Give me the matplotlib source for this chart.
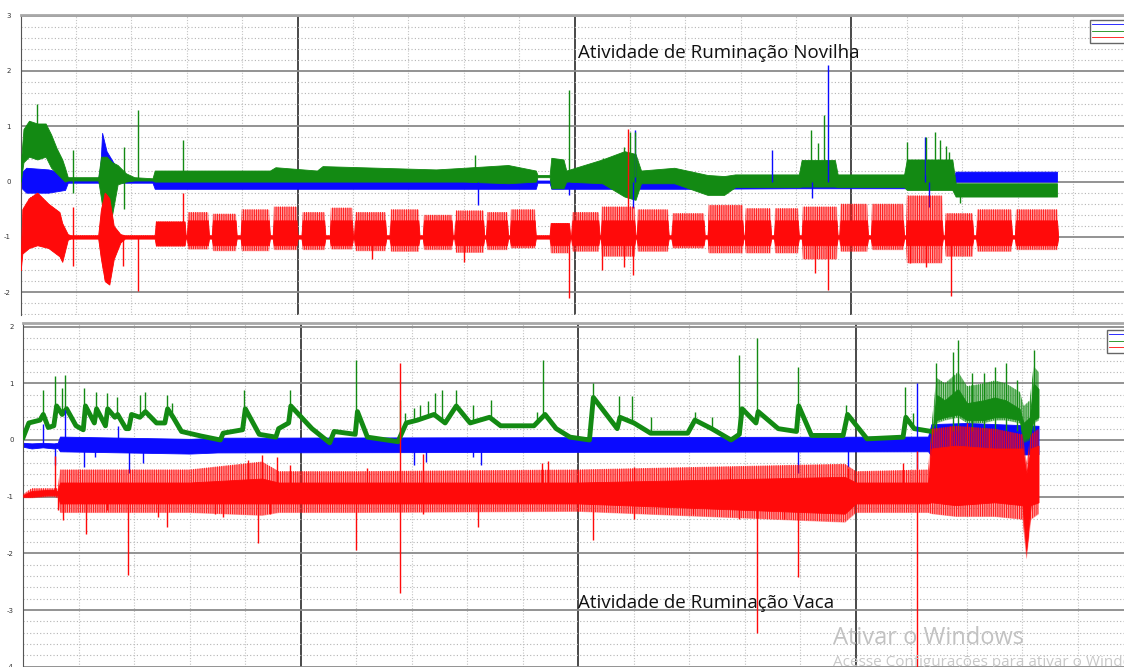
import numpy as np
import matplotlib
matplotlib.use('Agg')
import matplotlib.pyplot as plt
from matplotlib.ticker import MultipleLocator
from matplotlib.lines import Line2D

plt.rcParams['hatch.linewidth'] = 0.6
plt.rcParams['axes.unicode_minus'] = False

AZUL = '#0a0aff'
VERDE = '#138a13'
VERMELHO = '#ff0a0a'

# ---------------- Novilha (painel de cima) ----------------
# eixo x (azul): envelope superior / inferior
nov_x_t = [0.00, 0.10, 0.50, 0.80, 0.85, 1.40, 1.44, 1.47, 1.55, 1.70, 1.85, 2.00, 2.38,
           2.42, 6.00, 8.00, 9.30, 9.33, 9.55, 9.58, 12.00, 14.00, 16.00, 16.85, 16.88, 18.71]
nov_x_hi = [0.15, 0.25, 0.22, 0.15, 0.05, 0.05, 0.30, 0.88, 0.55, 0.30, 0.12, 0.04, 0.04,
            0.08, 0.08, 0.08, 0.08, 0.02, 0.02, 0.08, 0.08, 0.10, 0.10, 0.10, 0.18, 0.18]
nov_x_lo = [-0.10, -0.20, -0.20, -0.15, -0.02, -0.02, -0.05, 0.00, -0.05, 0.00, -0.02, -0.02, -0.02,
            -0.13, -0.13, -0.13, -0.13, -0.02, -0.02, -0.13, -0.13, -0.12, -0.12, -0.12, 0.00, 0.00]
nov_x_spk_x = [8.26, 9.90, 11.05, 11.09, 13.56, 14.28, 14.57, 16.32, 16.40]
nov_x_spk_y = [-0.42, -0.25, -0.48, 0.93, 0.57, -0.30, 2.10, 0.81, -0.45]

# eixo y (verde)
nov_y_t = [0.00, 0.05, 0.15, 0.30, 0.45, 0.55, 0.65, 0.75, 0.80, 0.85,
           1.40, 1.45, 1.55, 1.65, 1.75, 1.90, 2.05, 2.38, 2.42, 4.50,
           4.60, 5.35, 5.45, 7.50, 8.00, 8.80, 9.30, 9.33, 9.55, 9.58,
           9.80, 9.85, 10.50, 10.90, 11.10, 11.20, 11.80, 12.40, 12.70, 12.90,
           14.05, 14.10, 14.70, 14.75, 15.95, 16.00, 16.82, 16.88, 18.71]
nov_y_hi = [0.30, 0.95, 1.10, 1.05, 1.05, 0.85, 0.60, 0.40, 0.25, 0.08,
            0.08, 0.45, 0.45, 0.35, 0.30, 0.15, 0.08, 0.06, 0.20, 0.20,
            0.26, 0.20, 0.28, 0.22, 0.25, 0.30, 0.20, 0.12, 0.12, 0.43,
            0.40, 0.20, 0.40, 0.55, 0.50, 0.20, 0.25, 0.12, 0.10, 0.13,
            0.13, 0.39, 0.39, 0.13, 0.13, 0.40, 0.40, -0.03, -0.03]
nov_y_lo = [0.00, 0.35, 0.45, 0.40, 0.45, 0.25, 0.15, 0.05, 0.00, 0.02,
            0.02, -0.30, -1.00, -0.60, -0.05, 0.00, 0.02, 0.02, 0.00, 0.00,
            0.00, 0.00, 0.00, 0.00, 0.00, -0.03, 0.00, 0.08, 0.08, -0.12,
            -0.12, 0.00, -0.03, -0.27, -0.33, -0.03, -0.03, -0.24, -0.24, -0.10,
            -0.10, -0.09, -0.09, -0.10, -0.10, -0.15, -0.15, -0.27, -0.27]
nov_y_spk_x = [0.29, 0.94, 0.94, 1.86, 1.86, 2.12, 2.93, 8.20, 9.90, 10.52, 10.90, 11.00,
               11.10, 14.27, 14.39, 14.51, 16.00, 16.35, 16.50, 16.60, 16.70, 16.76, 16.95]
nov_y_spk_y = [1.41, 0.57, -0.20, 0.63, -0.50, 1.29, 0.75, 0.48, 1.66, 0.43, 0.63, 0.90,
               0.90, 0.93, 0.69, 1.20, 0.72, 0.81, 0.90, 0.75, 0.65, 0.54, -0.39]

# eixo z (vermelho): trecho inicial + blocos de ruminação
nov_z_t0 = [0.00, 0.03, 0.15, 0.30, 0.50, 0.70, 0.75, 0.85, 0.90, 1.40, 1.45, 1.52, 1.60, 1.68, 1.80, 1.88, 2.40]
nov_z_hi0 = [-1.50, -0.50, -0.30, -0.20, -0.40, -0.55, -0.75, -0.95, -0.97, -0.97, -0.50, -0.20, -0.30, -0.80, -0.95, -0.97, -0.97]
nov_z_lo0 = [-1.60, -1.30, -1.20, -1.15, -1.20, -1.35, -1.45, -1.05, -1.03, -1.03, -1.40, -1.80, -1.86, -1.40, -1.10, -1.03, -1.03]
nov_z_ini = [2.42, 3.00, 3.45, 3.97, 4.55, 5.07, 5.58, 6.02, 6.66, 7.26, 7.83, 8.40, 8.83, 9.55,
             9.94, 10.47, 11.12, 11.75, 12.40, 13.07, 13.60, 14.10, 14.78, 15.35, 15.98, 16.68, 17.25, 17.95]
nov_z_fim = [2.98, 3.40, 3.90, 4.50, 5.00, 5.50, 6.00, 6.60, 7.20, 7.80, 8.37, 8.80, 9.30, 9.92,
             10.45, 11.10, 11.70, 12.35, 13.05, 13.55, 14.05, 14.75, 15.30, 15.95, 16.65, 17.20, 17.90, 18.73]
nov_z_top = [-0.72, -0.55, -0.58, -0.50, -0.45, -0.55, -0.47, -0.55, -0.50, -0.60, -0.52, -0.55, -0.50, -0.75,
             -0.55, -0.45, -0.50, -0.57, -0.42, -0.48, -0.48, -0.45, -0.40, -0.40, -0.25, -0.57, -0.50, -0.50]
nov_z_bot = [-1.17, -1.22, -1.25, -1.25, -1.23, -1.23, -1.22, -1.25, -1.26, -1.23, -1.28, -1.23, -1.20, -1.29,
             -1.26, -1.35, -1.26, -1.20, -1.29, -1.29, -1.29, -1.40, -1.26, -1.23, -1.47, -1.35, -1.26, -1.23]
nov_z_corpo = (-0.70, -1.15)
nov_z_base = (-0.97, -1.03)
nov_z_spk_x = [0.94, 0.94, 1.85, 2.12, 2.93, 6.35, 8.00, 9.90, 10.50, 10.90, 10.96, 11.05, 14.35, 14.57, 16.05, 16.35, 16.80]
nov_z_spk_y = [-1.53, -0.45, -1.53, -1.98, -0.20, -1.40, -1.45, -2.10, -1.60, -1.55, 0.95, -1.68, -1.65, -1.96, -1.47, -1.55, -2.07]

# ---------------- Vaca (painel de baixo) ----------------
vac_x_t = [0.00, 0.15, 0.35, 0.55, 0.62, 0.66, 3.00, 3.50, 16.30, 16.36, 17.00, 18.29]
vac_x_hi = [-0.05, -0.06, -0.05, -0.06, -0.05, 0.06, 0.02, 0.04, 0.06, 0.28, 0.30, 0.25]
vac_x_lo = [-0.12, -0.15, -0.13, -0.15, -0.14, -0.20, -0.24, -0.22, -0.20, -0.28, -0.28, -0.25]
vac_x_spk_x = [0.36, 0.57, 0.76, 1.10, 1.29, 1.70, 1.91, 2.15, 7.04, 7.25, 8.10, 8.25, 13.95, 14.85, 16.10, 16.10]
vac_x_spk_y = [0.29, -0.45, 0.55, -0.47, -0.30, 0.25, -0.59, -0.40, -0.44, -0.38, -0.30, -0.44, -0.59, -0.47, 1.00, -0.52]

vac_y_t = [0.00, 0.10, 0.30, 0.36, 0.45, 0.55, 0.60, 0.70, 0.78, 0.95,
           1.08, 1.12, 1.28, 1.32, 1.48, 1.52, 1.65, 1.70, 1.85, 1.90,
           1.95, 2.10, 2.20, 2.40, 2.55, 2.60, 2.70, 2.85, 3.20, 3.55,
           3.60, 3.95, 4.00, 4.25, 4.55, 4.60, 4.78, 4.82, 5.20, 5.52,
           5.60, 5.98, 6.02, 6.20, 6.75, 6.90, 7.10, 7.40, 7.60, 7.80,
           8.05, 8.40, 8.60, 9.20, 9.40, 9.60, 9.85, 10.20, 10.27, 10.70,
           10.75, 11.00, 11.30, 11.97, 12.10, 12.40, 12.75, 12.90, 12.95, 13.20,
           13.24, 13.60, 13.93, 13.97, 14.20, 14.77, 14.85, 15.20, 15.85, 15.90,
           16.05, 16.36]
vac_y_c = [0.05, 0.30, 0.35, 0.45, 0.22, 0.25, 0.60, 0.45, 0.55, 0.25,
           0.18, 0.60, 0.30, 0.55, 0.25, 0.55, 0.40, 0.45, 0.20, 0.20,
           0.45, 0.40, 0.50, 0.30, 0.30, 0.55, 0.40, 0.15, 0.07, 0.00,
           0.12, 0.18, 0.55, 0.10, 0.05, 0.20, 0.30, 0.60, 0.20, -0.05,
           0.15, 0.10, 0.50, 0.05, -0.03, 0.30, 0.35, 0.45, 0.30, 0.60,
           0.30, 0.40, 0.25, 0.25, 0.45, 0.20, 0.05, 0.00, 0.75, 0.20,
           0.40, 0.30, 0.12, 0.12, 0.35, 0.20, 0.00, 0.10, 0.55, 0.30,
           0.50, 0.20, 0.15, 0.60, 0.08, 0.08, 0.45, 0.02, 0.05, 0.40,
           0.20, 0.15]
vac_y_wt = [16.36, 16.45, 16.60, 16.84, 17.00, 17.30, 17.50, 17.70, 17.95, 18.02, 18.13, 18.20, 18.29]
vac_y_whi = [0.25, 1.10, 1.00, 1.20, 0.95, 1.00, 1.05, 1.00, 0.85, 0.60, 0.70, 1.30, 1.20]
vac_y_wlo = [0.15, 0.30, 0.35, 0.40, 0.30, 0.30, 0.35, 0.35, 0.30, -0.05, 0.00, 0.30, 0.35]
vac_y_spk_x = [0.36, 0.57, 0.70, 0.76, 1.10, 1.31, 1.51, 1.68, 2.10, 2.20, 2.58, 2.67,
               3.98, 4.80, 6.00, 6.79, 6.88, 7.03, 7.15, 7.30, 7.42, 7.54, 7.80, 8.10,
               8.43, 9.25, 9.37, 10.26, 10.73, 10.97, 11.30, 12.10, 12.40, 12.90, 13.21, 13.95,
               14.83, 15.89, 16.03, 16.45, 16.75, 16.84, 17.10, 17.30, 17.50, 17.70, 17.90, 18.20]
vac_y_spk_y = [0.88, 1.12, 0.92, 1.15, 0.92, 0.85, 0.82, 0.76, 0.79, 0.85, 0.79, 0.65,
               0.88, 0.88, 1.41, 0.70, 0.47, 0.56, 0.62, 0.68, 0.82, 0.88, 0.88, 0.62,
               0.71, 0.50, 1.41, 1.00, 0.77, 0.77, 0.41, 0.50, 0.41, 1.50, 1.80, 1.29,
               0.62, 0.94, 0.47, 1.35, 1.55, 1.76, 1.18, 1.18, 1.29, 1.35, 1.06, 1.59]

vac_z_t = [0.00, 0.15, 0.45, 0.55, 0.62, 0.66, 3.00, 4.30, 4.60, 6.00, 10.00,
           14.80, 15.00, 16.30, 16.36, 16.80, 17.50, 18.00, 18.07, 18.15, 18.29]
vac_z_hi = [-0.97, -0.90, -0.88, -0.88, -0.90, -0.75, -0.75, -0.68, -0.75, -0.75, -0.75,
            -0.65, -0.75, -0.75, -0.15, -0.10, -0.15, -0.15, -0.60, -0.15, -0.10]
vac_z_lo = [-1.00, -1.00, -0.97, -0.97, -0.98, -1.12, -1.12, -1.12, -1.12, -1.12, -1.12,
            -1.30, -1.12, -1.12, -1.10, -1.15, -1.10, -1.15, -1.95, -1.15, -1.10]
vac_z_ohi = [-0.95, -0.85, -0.85, -0.85, -0.85, -0.52, -0.52, -0.38, -0.55, -0.55, -0.52,
             -0.42, -0.55, -0.52, 0.20, 0.25, 0.20, 0.10, -0.40, 0.10, 0.20]
vac_z_olo = [-1.02, -1.02, -1.00, -1.00, -1.02, -1.28, -1.28, -1.33, -1.28, -1.28, -1.26,
             -1.45, -1.28, -1.28, -1.30, -1.35, -1.35, -1.40, -2.10, -1.40, -1.30]
vac_z_spk_x = [0.57, 0.63, 0.72, 1.13, 1.50, 1.89, 2.43, 2.58, 3.45, 3.60, 4.04, 4.22, 4.30, 4.44,
               4.57, 4.80, 6.00, 6.20, 6.79, 6.79, 7.20, 7.20, 8.20, 9.34, 9.45, 10.00, 10.00, 10.26,
               11.00, 11.00, 12.06, 12.74, 12.90, 13.21, 13.70, 13.95, 14.85, 15.85, 16.10, 16.10,
               16.70, 17.00, 17.40]
vac_z_spk_y = [-0.29, -1.23, -1.41, -1.65, -1.23, -2.38, -1.35, -1.53, -1.30, -1.35, -0.35, -1.82, -0.26, -1.30,
               -0.30, -0.45, -1.94, -0.50, 1.35, -2.70, -0.24, -1.30, -1.53, -0.40, -0.37, -0.55, -1.25, -1.76,
               -0.47, -1.40, -1.30, -0.50, -1.40, -3.40, -1.40, -2.41, -0.50, -0.40, -4.10, -0.20,
               0.25, 0.30, 0.20]


def blocos(t0, hi0, lo0, ini, fim, top, bot, base):
    # junta o trecho inicial com os blocos (inicio, fim, topo, fundo)
    t, hi, lo = list(t0), list(hi0), list(lo0)
    for s, e, a, b in zip(ini, fim, top, bot):
        t += [s, s + 0.02, e - 0.02, e]
        hi += [base[0], a, a, base[0]]
        lo += [base[1], b, b, base[1]]
    return np.array(t), np.array(hi), np.array(lo)


def franja(ax, t, hi, lo, cor, z):
    # faixa de ruído: meio transparente + hachura vertical densa
    ax.fill_between(t, hi, lo, color=cor, alpha=0.35, lw=0, zorder=z)
    ax.fill_between(t, hi, lo, facecolor='none', edgecolor=cor, hatch='|||||||||', lw=0, zorder=z)


def spikes(ax, xs, ys, base_t, base_y, cor):
    base = np.interp(xs, base_t, base_y)
    ax.vlines(xs, base, ys, color=cor, lw=1.0, zorder=4)


def grade(ax, ylim, xlim):
    ax.set_xlim(*xlim)
    ax.set_ylim(*ylim)
    ax.xaxis.set_major_locator(MultipleLocator(5))
    ax.xaxis.set_minor_locator(MultipleLocator(1))
    ax.yaxis.set_major_locator(MultipleLocator(1))
    ax.yaxis.set_minor_locator(MultipleLocator(0.2))
    ax.grid(True, which='major', axis='x', color='#3a3a3a', lw=1.3)
    ax.grid(True, which='minor', axis='x', color='#c4c4c4', lw=0.8, ls=(0, (1, 1.5)))
    ax.grid(True, which='major', axis='y', color='#8a8a8a', lw=1.3)
    ax.grid(True, which='minor', axis='y', color='#b4b4b4', lw=0.8, ls=(0, (1, 2)))
    ax.set_axisbelow(True)
    ax.tick_params(which='both', length=0, labelsize=5, labelcolor='#333333', pad=7)
    ax.set_xticklabels([])
    for s in ['right', 'bottom']:
        ax.spines[s].set_visible(False)
    ax.spines['left'].set_color('#555555')
    ax.spines['top'].set_color('#a8a8a8')
    ax.spines['top'].set_linewidth(2)


fig = plt.figure(figsize=(11.24, 6.67), dpi=100)
ax1 = fig.add_axes([20.7 / 1124, 1 - 315 / 667, 1 - 20.7 / 1124, 300 / 667])
ax2 = fig.add_axes([23.3 / 1124, 0, 1 - 23.3 / 1124, 344 / 667])

# ---- painel de cima ----
grade(ax1, (-2.41, 3.01), (0, 19.92))
ax1.fill_between(nov_x_t, nov_x_hi, nov_x_lo, color=AZUL, lw=0.6, zorder=2)
spikes(ax1, nov_x_spk_x, nov_x_spk_y, nov_x_t, np.zeros(len(nov_x_t)), AZUL)
ax1.fill_between(nov_y_t, nov_y_hi, nov_y_lo, color=VERDE, lw=0.6, zorder=3)
mid_y = (np.array(nov_y_hi) + np.array(nov_y_lo)) / 2
spikes(ax1, nov_y_spk_x, nov_y_spk_y, nov_y_t, mid_y, VERDE)

zt, zhi, zlo = blocos(nov_z_t0, nov_z_hi0, nov_z_lo0, nov_z_ini, nov_z_fim,
                      nov_z_top, nov_z_bot, nov_z_base)
ct, chi, clo = blocos(nov_z_t0, nov_z_hi0, nov_z_lo0, nov_z_ini, nov_z_fim,
                      np.minimum(nov_z_top, nov_z_corpo[0]),
                      np.maximum(nov_z_bot, nov_z_corpo[1]), nov_z_base)
franja(ax1, zt, zhi, zlo, VERMELHO, 4)
ax1.fill_between(ct, chi, clo, color=VERMELHO, lw=0.6, zorder=4)
spikes(ax1, nov_z_spk_x, nov_z_spk_y, ct, (chi + clo) / 2, VERMELHO)

# ---- painel de baixo ----
grade(ax2, (-4.004, 2.063), (0, 19.83))
ax2.fill_between(vac_x_t, vac_x_hi, vac_x_lo, color=AZUL, lw=0.6, zorder=2)
mid_x = (np.array(vac_x_hi) + np.array(vac_x_lo)) / 2
spikes(ax2, vac_x_spk_x, vac_x_spk_y, vac_x_t, mid_x, AZUL)
ax2.plot(vac_y_t, vac_y_c, color=VERDE, lw=3.5, zorder=3)
franja(ax2, vac_y_wt, vac_y_whi, vac_y_wlo, VERDE, 3)
ax2.fill_between(vac_y_wt, np.array(vac_y_whi) - 0.3, np.array(vac_y_wlo) + 0.05,
                 color=VERDE, lw=0.6, zorder=3)
spikes(ax2, vac_y_spk_x, vac_y_spk_y, vac_y_t, vac_y_c, VERDE)
franja(ax2, vac_z_t, vac_z_ohi, vac_z_olo, VERMELHO, 4)
ax2.fill_between(vac_z_t, vac_z_hi, vac_z_lo, color=VERMELHO, lw=0.6, zorder=4)
mid_z = (np.array(vac_z_hi) + np.array(vac_z_lo)) / 2
spikes(ax2, vac_z_spk_x, vac_z_spk_y, vac_z_t, mid_z, VERMELHO)

# legendas (cortadas na borda, como na captura)
handles = [Line2D([], [], color=AZUL, lw=0.6), Line2D([], [], color=VERDE, lw=0.6),
           Line2D([], [], color=VERMELHO, lw=0.6)]
for pos in [(1087 / 1124, 1 - 17 / 667), (1104 / 1124, 1 - 327 / 667)]:
    fig.legend(handles, ['x', 'y', 'z'], loc='upper left', bbox_to_anchor=pos, fontsize=4,
               handlelength=6, borderpad=0.4, labelspacing=0.3, fancybox=False,
               edgecolor='#666666', framealpha=1)

fig.text(578 / 1124, 1 - 53 / 667, 'Atividade de Ruminação Novilha', family='Open Sans',
         fontsize=13.5, va='center', color='#111111')
fig.text(578 / 1124, 1 - 603 / 667, 'Atividade de Ruminação Vaca', family='Open Sans',
         fontsize=13.5, va='center', color='#111111')
fig.text(833 / 1124, 1 - 638 / 667, 'Ativar o Windows', family='Open Sans',
         fontsize=17, va='center', color='#c2c2c2')
fig.text(833 / 1124, 1 - 663 / 667, 'Acesse Configurações para ativar o Windows.',
         family='Open Sans', fontsize=11, va='center', color='#c8c8c8')

fig.savefig('out.png', dpi=100)
